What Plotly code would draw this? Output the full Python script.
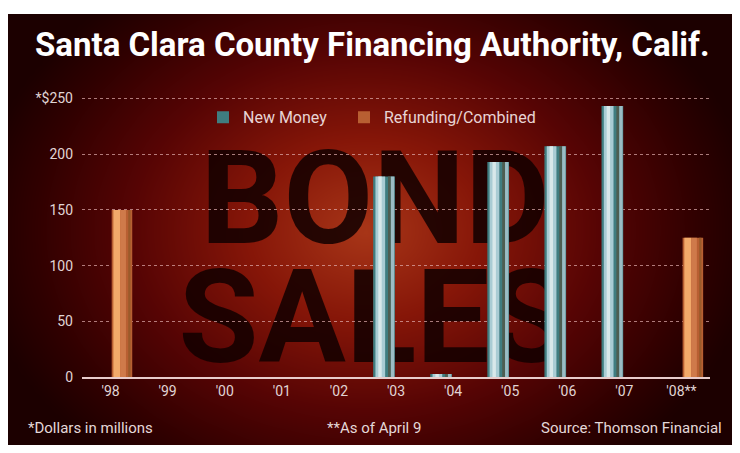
import numpy as np
import plotly.graph_objects as go

# ---- data ----
years = ["'98", "'99", "'00", "'01", "'02", "'03", "'04", "'05", "'06", "'07", "'08**"]
new_money = [0, 0, 0, 0, 0, 180, 3, 193, 207, 243, 0]
refunding = [150, 0, 0, 0, 0, 0, 0, 0, 0, 0, 125]
y_ticks = [0, 50, 100, 150, 200, 250]
y_tick_labels = ["0", "50", "100", "150", "200", "*$250"]

title_text = "Santa Clara County Financing Authority, Calif."
notes = ["*Dollars in millions", "**As of April 9", "Source: Thomson Financial"]

# figure size and the observed mapping from figure pixels to picture pixels
FW, FH = 724, 445
X0 = 8.0              # picture x of the figure's left edge
Y0, SY = 13.8, 0.968  # picture y of the figure's top edge, vertical scale

def px(sx):
    return (sx - X0) / FW
def py(sy):
    return 1 - ((sy - Y0) / SY) / FH

FONT = "Roboto, Liberation Sans, sans-serif"

fig = go.Figure()

# background radial gradient (decoration), in picture pixel coordinates
top, bot = Y0, Y0 + SY * FH
gx = np.linspace(X0, X0 + FW, 90)
gy = np.linspace(top, bot, 60)
XX, YY = np.meshgrid(gx, gy)
d = np.sqrt(((XX - 365) / 390) ** 2 + ((YY - 230) / 300) ** 2)
d = np.clip(d, 0, 1)
fig.add_trace(go.Heatmap(
    x=gx, y=gy, z=d, zmin=0, zmax=1, zsmooth="best", showscale=False, hoverinfo="skip",
    colorscale=[[0, "#a83618"], [0.3, "#861608"], [0.6, "#560404"], [0.85, "#300000"], [1, "#1c0000"]],
    xaxis="x", yaxis="y"))

# watermark words
fig.add_trace(go.Scatter(
    x=[375, 374], y=[210, 329], mode="text", text=["BOND", "SALES"],
    textfont=dict(family=FONT, size=130, color="rgba(18,0,0,0.86)", weight="bold"),
    textposition="middle center", hoverinfo="skip", showlegend=False, xaxis="x", yaxis="y"))

def bar(vals, color, width, offset, name=None, legend=None):
    fig.add_trace(go.Bar(
        x=years, y=vals, width=width, offset=offset, name=name,
        showlegend=legend is not None, legend=legend or "legend",
        marker=dict(color=color, line=dict(width=0)), hoverinfo="skip",
        xaxis="x2", yaxis="y2"))

bar(new_money, "#3f7d80", 0.38, -0.40, "New Money", "legend")
bar(new_money, "#a9ccd4", 0.17, -0.36)
bar(new_money, "#d8e8ea", 0.06, -0.31)
bar(new_money, "#4d5e52", 0.05, -0.14)
bar(new_money, "#9bbcc4", 0.06, -0.09)
bar(refunding, "#b85f32", 0.36, 0.02, "Refunding/Combined", "legend2")
bar(refunding, "#f2aa6a", 0.12, 0.05)
bar(refunding, "#cf7a4a", 0.10, 0.17)
bar(refunding, "#9a5a2a", 0.04, 0.31)

note_font = dict(family=FONT, size=15, color="#e4d8d8")
tick_font = dict(family=FONT, size=14, color="#e0d4d4")
legend_font = dict(family=FONT, size=16, color="#e8d4d4")

Y_TOP = 252  # a little headroom so the 250 gridline is drawn
PER_UNIT = (377 - 98) / 250

fig.update_layout(
    width=FW, height=FH, margin=dict(l=0, r=0, t=0, b=0),
    paper_bgcolor="white", plot_bgcolor="rgba(0,0,0,0)",
    barmode="overlay", showlegend=True,
    xaxis=dict(domain=[0, 1], range=[X0, X0 + FW], visible=False, fixedrange=True),
    yaxis=dict(domain=[0, 1], range=[bot, top], visible=False, fixedrange=True),
    xaxis2=dict(domain=[px(82), px(710)], anchor="y2", type="category",
                showgrid=False, showline=True, linecolor="#e8cccc", linewidth=2,
                ticks="", tickfont=tick_font, zeroline=False),
    yaxis2=dict(domain=[py(377), py(377 - Y_TOP * PER_UNIT)], anchor="x2", range=[0, Y_TOP],
                tickvals=y_ticks, ticktext=y_tick_labels, showline=False, zeroline=False,
                showgrid=True, gridcolor="rgba(225,175,175,0.7)", griddash="3px,3px", gridwidth=1,
                ticks="", ticklabelstandoff=8, tickfont=tick_font),
    legend=dict(orientation="h", x=px(203), y=py(117), xanchor="left", yanchor="middle",
                bgcolor="rgba(0,0,0,0)", font=legend_font),
    legend2=dict(orientation="h", x=px(344), y=py(117), xanchor="left", yanchor="middle",
                 bgcolor="rgba(0,0,0,0)", font=legend_font),
    annotations=[
        dict(text=title_text, x=px(372), y=py(44), xref="paper", yref="paper",
             showarrow=False, xanchor="center", yanchor="middle",
             font=dict(family=FONT, size=33, color="white", weight="bold")),
        dict(text=notes[0], x=px(26), y=py(428), xref="paper", yref="paper",
             showarrow=False, xanchor="left", yanchor="middle", font=note_font),
        dict(text=notes[1], x=px(374), y=py(428), xref="paper", yref="paper",
             showarrow=False, xanchor="center", yanchor="middle", font=note_font),
        dict(text=notes[2], x=px(724), y=py(428), xref="paper", yref="paper",
             showarrow=False, xanchor="right", yanchor="middle", font=note_font),
    ],
)

fig.write_html("out.html")
